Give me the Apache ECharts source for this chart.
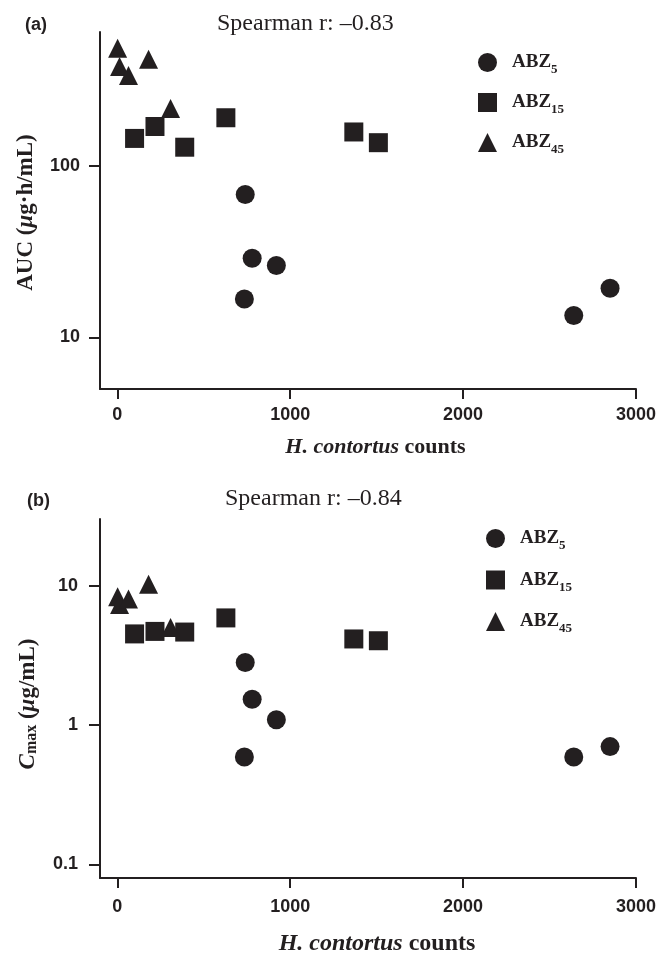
<!DOCTYPE html>
<html>
<head>
<meta charset="utf-8">
<script src="https://cdn.jsdelivr.net/npm/echarts@6/dist/echarts.min.js"></script>
<style>
html, body { margin: 0; padding: 0; background: #fff; }
#main { width: 660px; height: 953px; }
</style>
</head>
<body>
<div id="main"></div>
<script>
// H. contortus counts per animal, by group
const countsAbz5 = [740, 780, 920, 735, 2640, 2850];
const countsAbz15 = [100, 218, 390, 628, 1368, 1510];
const countsAbz45 = [2, 13, 65, 181, 308];

// (a) AUC (ug.h/mL)
const aucAbz5 = [67.8, 28.9, 26.2, 16.7, 13.4, 19.3];
const aucAbz15 = [144, 169, 128, 190, 157, 136];
const aucAbz45 = [482, 378, 335, 416, 215];

// (b) Cmax (ug/mL)
const cmaxAbz5 = [2.81, 1.53, 1.09, 0.59, 0.59, 0.70];
const cmaxAbz15 = [4.5, 4.69, 4.64, 5.86, 4.14, 4.02];
const cmaxAbz45 = [8.3, 7.3, 8.0, 10.2, 5.0];

const groups = ['ABZ5', 'ABZ15', 'ABZ45'];
const xTicks = [0, 1000, 2000, 3000];
const aucTicks = [10, 100];
const cmaxTicks = [0.1, 1, 10];
const spearman = ['Spearman r: –0.83', 'Spearman r: –0.84'];

const ink = '#231f20';
const serif = '"Liberation Serif", "Times New Roman", serif';
const sans = '"Liberation Sans", Arial, sans-serif';
const symbols = { ABZ5: 'circle', ABZ15: 'rect', ABZ45: 'triangle' };

const chart = echarts.init(document.getElementById('main'));

function pts(xs, ys) {
  return xs.map((x, i) => [x, ys[i]]);
}

function scatter(name, xs, ys, idx) {
  return {
    type: 'scatter',
    name: name,
    xAxisIndex: idx,
    yAxisIndex: idx,
    data: pts(xs, ys),
    symbol: symbols[name],
    symbolSize: 19,
    itemStyle: { color: ink, opacity: 1 },
    emphasis: { disabled: true }
  };
}

function xAxis(idx, labelMargin, nameGap, nameSize, namePad) {
  const t = { fontFamily: serif, fontWeight: 'bold', fontSize: nameSize, color: ink, lineHeight: 24 };
  return {
    type: 'value',
    gridIndex: idx,
    min: -100,
    max: 3000,
    name: '{i|H. contortus}{b| counts}',
    nameLocation: 'middle',
    nameGap: nameGap,
    nameTextStyle: {
      padding: [0, 0, 0, namePad],
      rich: { i: Object.assign({}, t, { fontStyle: 'italic' }), b: t }
    },
    axisLine: { onZero: false, lineStyle: { color: ink, width: 2 } },
    axisTick: { customValues: xTicks, length: 10, lineStyle: { color: ink, width: 2 } },
    axisLabel: {
      customValues: xTicks, margin: labelMargin, color: ink,
      fontFamily: sans, fontWeight: 'bold', fontSize: 18,
      formatter: v => String(v)
    },
    splitLine: { show: false }
  };
}

function yAxis(idx, min, max, ticks, name, labelMargin, nameGap, namePad) {
  const t = { fontFamily: serif, fontWeight: 'bold', fontSize: 23, color: ink, lineHeight: 24 };
  return {
    type: 'log',
    logBase: 10,
    gridIndex: idx,
    min: min,
    max: max,
    name: name,
    nameLocation: 'middle',
    nameGap: nameGap,
    nameTextStyle: {
      padding: [0, namePad, 0, 0],
      rich: {
        b: t,
        i: Object.assign({}, t, { fontStyle: 'italic' }),
        sub: { fontFamily: serif, fontWeight: 'bold', fontSize: 16, color: ink, lineHeight: 14, verticalAlign: 'bottom' }
      }
    },
    axisLine: { onZero: false, lineStyle: { color: ink, width: 2 } },
    axisTick: { customValues: ticks, length: 11, lineStyle: { color: ink, width: 2 } },
    axisLabel: {
      customValues: ticks, margin: labelMargin, color: ink,
      fontFamily: sans, fontWeight: 'bold', fontSize: 18
    },
    splitLine: { show: false },
    minorTick: { show: false }
  };
}

function legend(left, top, gap) {
  return {
    orient: 'vertical',
    left: left,
    top: top,
    padding: 0,
    itemWidth: 19,
    itemHeight: 19,
    itemGap: gap,
    selectedMode: false,
    data: groups.map(n => ({ name: n, icon: symbols[n], itemStyle: { color: ink } })),
    formatter: n => '{a|ABZ}{s|' + n.slice(3) + '}',
    textStyle: {
      rich: {
        a: { fontFamily: serif, fontWeight: 'bold', fontSize: 19, color: ink, lineHeight: 28, padding: [0, 0, 0, 10] },
        s: { fontFamily: serif, fontWeight: 'bold', fontSize: 13, color: ink, lineHeight: 14, verticalAlign: 'bottom' }
      }
    }
  };
}

const panelStyle = { fontFamily: sans, fontWeight: 'bold', fontSize: 18, color: ink };
const spearStyle = { fontFamily: serif, fontWeight: 'normal', fontSize: 24, color: ink };

chart.setOption({
  animation: false,
  backgroundColor: '#fff',
  title: [
    { text: '(a)', left: 25, top: 16, padding: 0, textStyle: panelStyle },
    { text: spearman[0], left: 217, top: 12, padding: 0, textStyle: spearStyle },
    { text: '(b)', left: 27, top: 492, padding: 0, textStyle: panelStyle },
    { text: spearman[1], left: 225, top: 487, padding: 0, textStyle: spearStyle }
  ],
  legend: [legend(478, 53, 16.5), legend(486, 529, 18)],
  grid: [
    { left: 100, right: 24, top: 32, height: 357, containLabel: false, outerBoundsMode: 'none' },
    { left: 100, right: 24, top: 519, height: 359, containLabel: false, outerBoundsMode: 'none' }
  ],
  xAxis: [xAxis(0, 17, 46, 22, 15), xAxis(1, 20, 54, 24, 18)],
  yAxis: [
    yAxis(0, 5, 600, aucTicks, '{b|AUC (}{i|μ}{b|g·h/mL)}', 20, 62, 4),
    yAxis(1, 0.08, 30, cmaxTicks, '{i|C}{sub|max}{b| (}{i|μ}{b|g/mL)}', 22, 60, 11)
  ],
  series: [
    scatter('ABZ5', countsAbz5, aucAbz5, 0),
    scatter('ABZ15', countsAbz15, aucAbz15, 0),
    scatter('ABZ45', countsAbz45, aucAbz45, 0),
    scatter('ABZ5', countsAbz5, cmaxAbz5, 1),
    scatter('ABZ15', countsAbz15, cmaxAbz15, 1),
    scatter('ABZ45', countsAbz45, cmaxAbz45, 1)
  ]
});
</script>
</body>
</html>
